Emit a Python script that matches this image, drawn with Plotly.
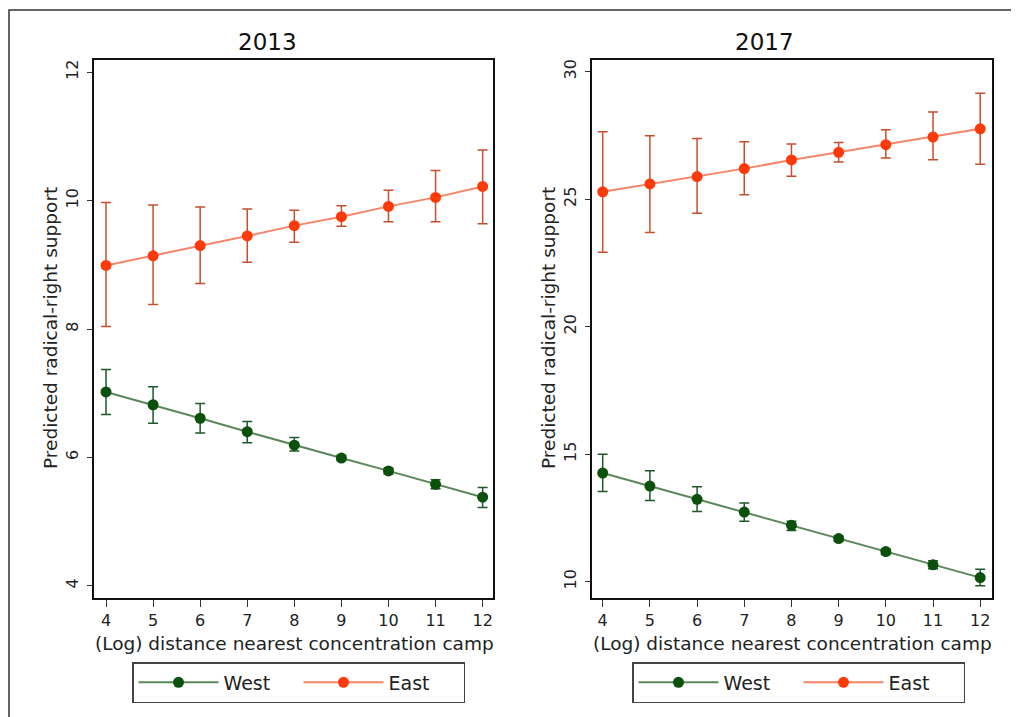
import plotly.graph_objects as go

distance = [4, 5, 6, 7, 8, 9, 10, 11, 12]

# 2013
west13 = [7.02, 6.82, 6.61, 6.40, 6.19, 5.99, 5.79, 5.58, 5.38]
west13_hi = [7.37, 7.10, 6.84, 6.56, 6.31, 6.03, 5.83, 5.65, 5.53]
west13_lo = [6.67, 6.53, 6.38, 6.23, 6.10, 5.95, 5.74, 5.51, 5.22]
east13 = [8.99, 9.14, 9.30, 9.45, 9.61, 9.75, 9.91, 10.05, 10.22]
east13_hi = [9.97, 9.93, 9.90, 9.87, 9.85, 9.92, 10.16, 10.47, 10.79]
east13_lo = [8.04, 8.38, 8.71, 9.04, 9.35, 9.60, 9.67, 9.67, 9.64]

# 2017
west17 = [14.26, 13.75, 13.23, 12.73, 12.21, 11.69, 11.18, 10.66, 10.16]
west17_hi = [15.00, 14.35, 13.72, 13.09, 12.37, 11.79, 11.28, 10.82, 10.49]
west17_lo = [13.54, 13.18, 12.75, 12.37, 12.01, 11.59, 11.07, 10.51, 9.84]
east17 = [25.29, 25.60, 25.89, 26.20, 26.54, 26.84, 27.14, 27.44, 27.76]
east17_hi = [27.65, 27.49, 27.38, 27.25, 27.17, 27.22, 27.72, 28.42, 29.16]
east17_lo = [22.92, 23.69, 24.45, 25.18, 25.90, 26.46, 26.62, 26.55, 26.37]

panel_titles = ["2013", "2017"]
y_ticks_2013 = [4, 6, 8, 10, 12]
y_ticks_2017 = [10, 15, 20, 25, 30]

# the page body has an 8px margin, so the figure is drawn 8px in from the corner
OFF = 8
W, H = 1019 - OFF, 717 - OFF
WEST_LINE = "#5a885a"
WEST_MARK = "#0b500b"
WEST_ERR = "#1e5a2a"
EAST_LINE = "#f5866a"
EAST_MARK = "#ff3a0a"
EAST_ERR = "#c5502e"
FONT = "DejaVu Sans"


def px(x):
    return (x - OFF) / W


def py(y):
    return 1 - (y - OFF) / H


def series(x, y, hi, lo, name, line_c, mark_c, err_c, xa, ya, legend):
    return go.Scatter(
        x=x, y=y, name=name, mode="lines+markers",
        line=dict(color=line_c, width=2),
        marker=dict(color=mark_c, size=11),
        error_y=dict(type="data", symmetric=False,
                     array=[h - v for h, v in zip(hi, y)],
                     arrayminus=[v - l for v, l in zip(y, lo)],
                     color=err_c, thickness=1.5, width=5),
        xaxis=xa, yaxis=ya, legend=legend, showlegend=True,
    )


fig = go.Figure()
fig.add_trace(series(distance, west13, west13_hi, west13_lo, "West", WEST_LINE, WEST_MARK, WEST_ERR, "x", "y", "legend"))
fig.add_trace(series(distance, east13, east13_hi, east13_lo, "East", EAST_LINE, EAST_MARK, EAST_ERR, "x", "y", "legend"))
fig.add_trace(series(distance, west17, west17_hi, west17_lo, "West", WEST_LINE, WEST_MARK, WEST_ERR, "x2", "y2", "legend2"))
fig.add_trace(series(distance, east17, east17_hi, east17_lo, "East", EAST_LINE, EAST_MARK, EAST_ERR, "x2", "y2", "legend2"))

axis_common = dict(showline=True, linecolor="#111", linewidth=1.5, mirror=True,
                   ticks="outside", tickcolor="#333", showgrid=False,
                   zeroline=False, tickfont=dict(family=FONT, size=16, color="#222"))
xaxis_common = dict(ticklen=7, **axis_common)
yaxis_common = dict(ticklen=5, ticklabelstandoff=3, tickangle=-90, **axis_common)

legend_common = dict(xanchor="left", yanchor="top", orientation="h",
                     bordercolor="#444", borderwidth=1.5, entrywidth=70, itemwidth=80,
                     font=dict(family=FONT, size=19, color="#222"), bgcolor="white")

ydom = [py(598), py(60)]
fig.update_layout(
    width=W, height=H, margin=dict(l=0, r=0, t=0, b=0, autoexpand=False),
    paper_bgcolor="white", plot_bgcolor="white",
    xaxis=dict(domain=[px(94), px(493)], range=[3.745, 12.22], tickvals=distance, anchor="y", **xaxis_common),
    yaxis=dict(domain=ydom, range=[3.81, 12.19], tickvals=y_ticks_2013, anchor="x", **yaxis_common),
    xaxis2=dict(domain=[px(592), px(992)], range=[3.773, 12.25], tickvals=distance, anchor="y2", **xaxis_common),
    yaxis2=dict(domain=ydom, range=[9.36, 30.46], tickvals=y_ticks_2017, anchor="x2", **yaxis_common),
    legend=dict(x=px(132), y=py(662), **legend_common),
    legend2=dict(x=px(632), y=py(662), **legend_common),
)

annotations = []
for title, cx in zip(panel_titles, [267, 764]):
    annotations.append(dict(text=title, x=px(cx), y=py(42), xref="paper", yref="paper",
                            xanchor="center", yanchor="middle", showarrow=False,
                            font=dict(family=FONT, size=23, color="#111")))
for cx in [294, 792]:
    annotations.append(dict(text="(Log) distance nearest concentration camp", x=px(cx), y=py(643),
                            xref="paper", yref="paper", xanchor="center", yanchor="middle",
                            showarrow=False, font=dict(family=FONT, size=18.5, color="#222")))
for cx in [50, 548]:
    annotations.append(dict(text="Predicted radical-right support", x=px(cx), y=py(328),
                            xref="paper", yref="paper", xanchor="center", yanchor="middle",
                            showarrow=False, textangle=-90,
                            font=dict(family=FONT, size=18.5, color="#222")))
fig.update_layout(annotations=annotations)

fig.add_shape(type="rect", xref="paper", yref="paper", x0=px(9), y0=py(730), x1=px(1030), y1=py(10),
              line=dict(color="#333", width=1.5))

fig.write_html("out.html")
